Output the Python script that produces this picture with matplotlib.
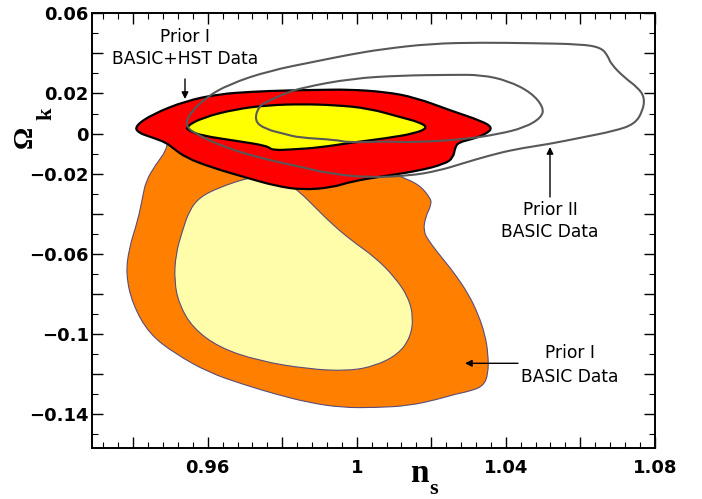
import matplotlib
matplotlib.use("Agg")
import matplotlib.pyplot as plt
from matplotlib.ticker import MultipleLocator, FixedLocator
from matplotlib.path import Path
from matplotlib.patches import PathPatch

# ---------------- data (n_s, Omega_k) ----------------
# Prior I, BASIC data: outer (95%) and inner (68%) regions
orange_ns = [0.9492, 0.9488, 0.9461, 0.9434, 0.9425, 0.9412, 0.9389, 0.9380, 0.9398, 0.9443,
             0.9514, 0.9603, 0.9693, 0.9782, 0.9871, 0.9960, 1.0050, 1.0139, 1.0219, 1.0264,
             1.0308, 1.0340, 1.0353, 1.0353, 1.0344, 1.0326, 1.0300, 1.0264, 1.0228, 1.0193,
             1.0179, 1.0184, 1.0201, 1.0197, 1.0166, 1.0112, 1.0059, 0.9711, 0.9523]
orange_ok = [-0.0036, -0.0086, -0.0153, -0.0236, -0.0319, -0.0435, -0.0569, -0.0701, -0.0851, -0.1000,
             -0.1100, -0.1192, -0.1250, -0.1300, -0.1342, -0.1367, -0.1367, -0.1358, -0.1325, -0.1300,
             -0.1283, -0.1258, -0.1200, -0.1100, -0.1000, -0.0901, -0.0801, -0.0701, -0.0618, -0.0535,
             -0.0485, -0.0419, -0.0352, -0.0319, -0.0252, -0.0211, -0.0161, -0.0086, -0.0036]

lightyellow_ns = [0.9711, 0.9630, 0.9577, 0.9550, 0.9532, 0.9514, 0.9510, 0.9523, 0.9559, 0.9630,
                  0.9737, 0.9871, 0.9978, 1.0050, 1.0112, 1.0144, 1.0152, 1.0139, 1.0103, 1.0050,
                  0.9987, 0.9934, 0.9889, 0.9844, 0.9800, 0.9755]
lightyellow_ok = [-0.0219, -0.0269, -0.0319, -0.0386, -0.0485, -0.0601, -0.0735, -0.0851, -0.0968, -0.1067,
                  -0.1134, -0.1175, -0.1184, -0.1159, -0.1100, -0.1017, -0.0918, -0.0818, -0.0718, -0.0618,
                  -0.0535, -0.0452, -0.0369, -0.0286, -0.0227, -0.0211]

# Prior I, BASIC+HST data
red_ns = [0.9405, 0.9452, 0.9541, 0.9630, 0.9719, 0.9809, 0.9898, 0.9978, 1.0077, 1.0157,
          1.0255, 1.0335, 1.0365, 1.0348, 1.0313, 1.0273, 1.0264, 1.0259, 1.0237, 1.0166,
          1.0077, 0.9987, 0.9934, 0.9853, 0.9782, 0.9702, 0.9612, 0.9541, 0.9505, 0.9488,
          0.9452, 0.9412]
red_ok = [0.0038, 0.0097, 0.0163, 0.0197, 0.0209, 0.0215, 0.0218, 0.0220, 0.0208, 0.0180,
          0.0113, 0.0063, 0.0030, -0.0001, -0.0026, -0.0044, -0.0070, -0.0120, -0.0151, -0.0186,
          -0.0211, -0.0238, -0.0269, -0.0281, -0.0261, -0.0219, -0.0170, -0.0120, -0.0070, -0.0045,
          -0.0020, 0.0005]

yellow_ns = [0.9540, 0.9586, 0.9675, 0.9764, 0.9853, 0.9943, 1.0032, 1.0121, 1.0166, 1.0192,
             1.0157, 1.0077, 0.9987, 0.9898, 0.9836, 0.9773, 0.9760, 0.9675, 0.9586, 0.9550]
yellow_ok = [0.0033, 0.0080, 0.0122, 0.0142, 0.0147, 0.0142, 0.0126, 0.0080, 0.0058, 0.0030,
             0.0001, -0.0024, -0.0045, -0.0070, -0.0078, -0.0084, -0.0061, -0.0036, -0.0011, 0.0013]

# Prior II, BASIC data (outline only)
grayout_ns = [0.9540, 0.9568, 0.9648, 0.9737, 0.9836, 0.9934, 1.0032, 1.0139, 1.0219, 1.0291,
              1.0353, 1.0425, 1.0514, 1.0603, 1.0692, 1.0746, 1.0768, 1.0773, 1.0755, 1.0719,
              1.0683, 1.0674, 1.0656, 1.0603, 1.0469, 1.0335, 1.0201, 1.0067, 0.9978, 0.9898,
              0.9764, 0.9657, 0.9595, 0.9550]
grayout_ok = [0.0038, -0.0003, -0.0070, -0.0120, -0.0161, -0.0202, -0.0219, -0.0211, -0.0186, -0.0145,
              -0.0111, -0.0078, -0.0053, -0.0020, 0.0013, 0.0047, 0.0113, 0.0180, 0.0229, 0.0279,
              0.0346, 0.0388, 0.0429, 0.0446, 0.0451, 0.0454, 0.0449, 0.0421, 0.0393, 0.0363,
              0.0313, 0.0246, 0.0180, 0.0097]

grayin_ns = [0.9725, 0.9737, 0.9764, 0.9804, 0.9853, 0.9987, 1.0121, 1.0255, 1.0335, 1.0407,
             1.0469, 1.0502, 1.0496, 1.0451, 1.0380, 1.0291, 1.0157, 1.0077, 0.9978, 0.9943,
             0.9844, 0.9809, 0.9755]
grayin_ok = [0.0063, 0.0138, 0.0163, 0.0198, 0.0229, 0.0275, 0.0290, 0.0293, 0.0293, 0.0263,
             0.0204, 0.0130, 0.0080, 0.0030, -0.0003, -0.0028, -0.0044, -0.0039, -0.0045, -0.0031,
             -0.0020, -0.0003, 0.0022]

x_tick_values = [0.94, 0.96, 0.98, 1.00, 1.02, 1.04, 1.06, 1.08]
x_tick_labels = ["", "0.96", "", "1", "", "1.04", "", "1.08"]
y_tick_values = [-0.14, -0.12, -0.10, -0.08, -0.06, -0.04, -0.02, 0.0, 0.02, 0.04, 0.06]
y_tick_labels = ["\u22120.14", "", "\u22120.1", "", "\u22120.06", "", "\u22120.02", "0", "0.02", "", "0.06"]


def closed_smooth_path(xs, ys):
    """Closed outline drawn by matplotlib as quadratic Bezier pieces, using the
    read points as control points (curve passes through their midpoints)."""
    pts = list(zip(xs, ys))
    n = len(pts)
    mid = lambda a, b: ((a[0] + b[0]) / 2, (a[1] + b[1]) / 2)
    verts = [mid(pts[0], pts[1])]
    codes = [Path.MOVETO]
    for i in range(1, n + 1):
        p = pts[i % n]
        q = pts[(i + 1) % n]
        verts += [p, mid(p, q)]
        codes += [Path.CURVE3, Path.CURVE3]
    return Path(verts, codes)


# ---------------- figure ----------------
W, H = 702, 499
fig = plt.figure(figsize=(W / 100, H / 100), dpi=100)
ax = fig.add_axes([92.3 / W, 1 - 448.3 / H, (654.7 - 92.3) / W, (448.3 - 13.3) / H])

edge_o = "#5a4c78"
ax.add_patch(PathPatch(closed_smooth_path(orange_ns, orange_ok), facecolor="#ff8000",
                       edgecolor=edge_o, lw=0.8, zorder=1))
ax.add_patch(PathPatch(closed_smooth_path(lightyellow_ns, lightyellow_ok), facecolor="#fffcaa",
                       edgecolor=edge_o, lw=0.8, zorder=2))
ax.add_patch(PathPatch(closed_smooth_path(red_ns, red_ok), facecolor="#ff0000",
                       edgecolor="black", lw=1.6, zorder=3))
ax.add_patch(PathPatch(closed_smooth_path(yellow_ns, yellow_ok), facecolor="#ffff00",
                       edgecolor="black", lw=1.6, zorder=4))
ax.add_patch(PathPatch(closed_smooth_path(grayout_ns, grayout_ok), facecolor="none",
                       edgecolor="#585858", lw=1.5, zorder=5))
ax.add_patch(PathPatch(closed_smooth_path(grayin_ns, grayin_ok), facecolor="none",
                       edgecolor="#585858", lw=1.5, zorder=5))

ax.set_xlim(0.929, 1.08)
ax.set_ylim(-0.157, 0.06)

ax.xaxis.set_major_locator(FixedLocator(x_tick_values))
ax.set_xticklabels(x_tick_labels)
ax.xaxis.set_minor_locator(MultipleLocator(0.004))
ax.yaxis.set_major_locator(FixedLocator(y_tick_values))
ax.set_yticklabels(y_tick_labels)
ax.yaxis.set_minor_locator(MultipleLocator(0.01))

ax.tick_params(which="both", direction="in", top=True, right=True, color="black")
ax.tick_params(which="major", length=8, width=1.0)
ax.tick_params(which="minor", length=4, width=0.8)
ax.tick_params(axis="x", which="major", pad=7.5)
ax.tick_params(axis="y", which="major", pad=2.5)
for lab in ax.get_xticklabels() + ax.get_yticklabels():
    lab.set_fontfamily("DejaVu Sans")
    lab.set_fontweight("bold")
    lab.set_fontsize(13)
for sp in ax.spines.values():
    sp.set_linewidth(1.4)

# axis labels (serif bold, with subscripts)
fig.text(419 / W, 1 - 473 / H, "n", family="Liberation Serif", weight="bold", fontsize=24,
         ha="center", va="center")
fig.text(434 / W, 1 - 489 / H, "s", family="Liberation Serif", weight="bold", fontsize=16,
         ha="center", va="center")
fig.text(25 / W, 1 - 137 / H, "\u03a9", family="Liberation Serif", weight="bold", fontsize=20,
         ha="center", va="center", rotation=90)
fig.text(46 / W, 1 - 114 / H, "k", family="Liberation Serif", weight="bold", fontsize=16,
         ha="center", va="center", rotation=90)

# annotations
tkw = dict(family="DejaVu Sans", fontsize=12.3, ha="center", va="baseline")
fig.text(185 / W, 1 - 41.5 / H, "Prior I", **tkw)
fig.text(185 / W, 1 - 64 / H, "BASIC+HST Data", **tkw)
fig.text(550 / W, 1 - 215 / H, "Prior II", **tkw)
fig.text(550 / W, 1 - 237.3 / H, "BASIC Data", **tkw)
fig.text(570 / W, 1 - 358.3 / H, "Prior I", **tkw)
fig.text(570 / W, 1 - 381.7 / H, "BASIC Data", **tkw)

akw = dict(arrowstyle="-|>", color="black", lw=1.0, mutation_scale=10, shrinkA=0, shrinkB=0)
ax.annotate("", xy=(185, H - 99), xytext=(185, H - 79), xycoords="figure pixels",
            textcoords="figure pixels", arrowprops=akw, zorder=6)
ax.annotate("", xy=(550, H - 147), xytext=(550, H - 197), xycoords="figure pixels",
            textcoords="figure pixels", arrowprops=akw, zorder=6)
ax.annotate("", xy=(465, H - 363.3), xytext=(518, H - 363.3), xycoords="figure pixels",
            textcoords="figure pixels", arrowprops=akw, zorder=6)

fig.savefig("out.png", dpi=100)
